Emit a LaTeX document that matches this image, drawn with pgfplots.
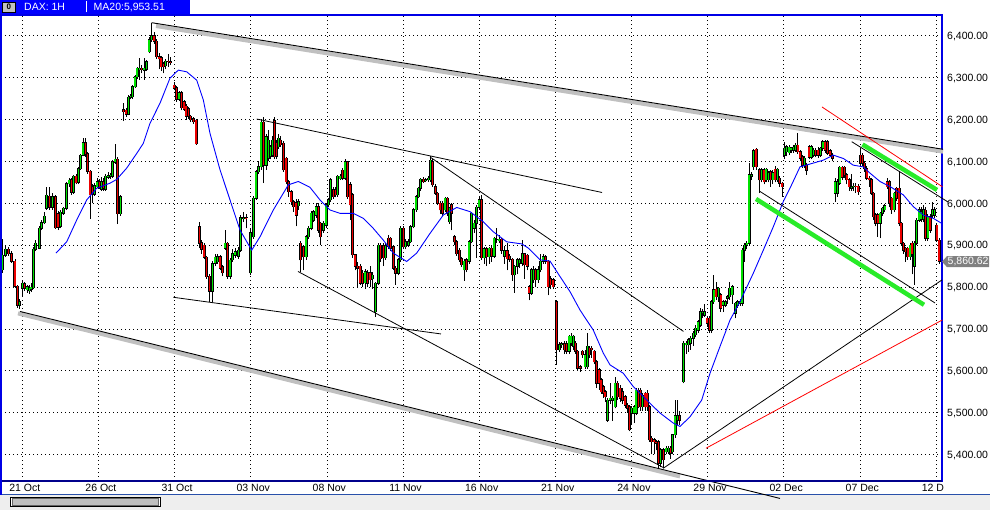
\documentclass[border=0pt]{standalone}
\usepackage{fontspec}
\setmainfont{Liberation Sans}
\usepackage{pgfplots}
\usepackage{pgfplotstable}
\pgfplotsset{compat=1.18}
\definecolor{cgreen}{RGB}{0,225,0}
\definecolor{cred}{RGB}{235,0,0}
\definecolor{lgreen}{RGB}{40,235,40}
\definecolor{frameblue}{RGB}{0,0,230}
\definecolor{hdrblue}{RGB}{0,0,255}
\definecolor{navy}{RGB}{0,0,140}
\definecolor{lgray}{RGB}{192,192,192}
\definecolor{scrollbg}{RGB}{238,238,238}
\definecolor{maBlue}{RGB}{0,0,255}
\definecolor{lineblue}{RGB}{40,80,170}

\pgfplotstableread{
x o h l c
2.7 5841 5914 5833 5876
5.7 5876 5898 5872 5890
8.3 5890 5895 5875 5880
11.7 5880 5885 5858 5862
15 5862 5866 5798 5802
17.3 5802 5806 5750 5757
19.3 5757 5772 5748 5765
22.3 5797 5815 5778 5809
24.7 5808 5812 5790 5797
27 5793 5806 5786 5801
29.3 5791 5804 5784 5797
31 5795 5810 5788 5800
33.3 5798 5895 5795 5890
35.7 5890 5912 5886 5905
39.3 5893 5945 5890 5940
41.7 5940 5960 5936 5953
44.3 5953 5978 5950 5969
46.7 5988 6040 5985 6019
49.3 6017 6040 5985 5990
52.3 5990 6025 5985 6016
55.3 6016 6020 5938 5942
58 5975 5982 5936 5943
60.7 5945 5984 5940 5978
63.3 5976 5990 5972 5988
66.7 5988 6052 5985 6047
69 6047 6060 6040 6055
71.3 6056 6060 6020 6026
73.7 6026 6068 6022 6064
76 6064 6070 6045 6049
78.3 6050 6087 6046 6083
80.7 6083 6118 6080 6115
83 6115 6155 6112 6145
85.3 6145 6157 6110 6118
87.7 6118 6122 6070 6076
90 6076 6080 5962 6020
92.3 6040 6045 6000 6022
94.7 6022 6048 6018 6042
97 6040 6060 6036 6052
99.3 6052 6058 6035 6040
101.3 6034 6063 6030 6052
103.3 6052 6060 6030 6036
105.7 6034 6070 6030 6064
108 6062 6075 6058 6066
110.3 6064 6072 6058 6067
112.7 6064 6104 6060 6099
115 6098 6142 6094 6105
117.7 6105 6110 5950 5975
120.7 5975 6020 5970 6016
123.3 6223 6239 6196 6219
126 6222 6228 6207 6213
128.3 6213 6258 6210 6253
130.7 6253 6262 6248 6256
132.7 6255 6282 6250 6278
135 6278 6306 6275 6302
137 6302 6326 6298 6322
139.3 6319 6346 6295 6322
141.7 6323 6330 6310 6319
144 6318 6346 6295 6322
146.7 6320 6342 6316 6338
149 6362 6396 6358 6390
151.7 6390 6431 6386 6400
154 6400 6408 6380 6387
156.7 6387 6392 6345 6350
159 6350 6360 6320 6345
161 6348 6352 6316 6326
163.3 6332 6338 6310 6326
165.7 6328 6345 6320 6339
168.3 6339 6356 6326 6338
170.7 6338 6350 6330 6337
174 6282 6290 6270 6275
176.7 6276 6280 6242 6248
179 6248 6268 6244 6264
181.7 6264 6268 6222 6228
184 6242 6246 6220 6225
186 6232 6236 6200 6208
188.3 6226 6230 6202 6208
190.7 6208 6212 6194 6199
193.3 6202 6206 6190 6195
196 6198 6202 6140 6142
199.3 5944 5956 5892 5905
201.7 5906 5912 5880 5890
204 5900 5905 5866 5871
206.7 5871 5875 5820 5825
209.3 5826 5830 5765 5790
212.3 5790 5862 5765 5856
215 5857 5878 5850 5871
217.3 5860 5880 5855 5872
220 5872 5876 5840 5845
222.3 5848 5852 5826 5834
225 5892 5936 5888 5904
227.3 5904 5908 5820 5826
230 5826 5870 5818 5864
232.3 5865 5890 5860 5880
235 5876 5892 5870 5884
238.3 5874 5895 5868 5888
240.7 5888 5972 5884 5966
243.3 5963 5980 5955 5966
246 5966 5975 5940 5965
250.7 5834 5940 5828 5930
253.3 5920 6018 5915 6012
256 6012 6080 6008 6075
258.3 6075 6100 6070 6087
261 6087 6200 6080 6193
263.3 6193 6205 6048 6091
266 6091 6165 6080 6159
268.7 6107 6175 6100 6151
270.7 6112 6140 6105 6135
272.7 6115 6160 6110 6151
274.7 6197 6205 6105 6111
276.7 6143 6150 6105 6112
278.7 6135 6165 6130 6155
280.7 6150 6160 6135 6140
283.3 6143 6148 6075 6080
286 6107 6110 6045 6052
288.7 6052 6055 6015 6028
291 6028 6032 5995 6004
293.3 6004 6008 5980 5992
296 6001 6010 5945 5972
298.3 5994 6010 5985 6004
300.7 5904 5910 5836 5865
303.3 5896 5900 5840 5872
306 5872 5925 5865 5920
308.7 5920 5945 5915 5940
311 5940 5982 5935 5976
313.3 5960 5985 5955 5980
316 5972 6000 5965 5992
318.3 5992 6000 5930 5936
320.7 5952 5955 5900 5920
323.3 5936 5958 5930 5952
326 5948 6000 5940 5996
328.3 5996 6012 5990 6008
330.7 6008 6060 6004 6056
333.3 6032 6040 6010 6016
335.3 6032 6038 6014 6020
337.3 6020 6068 6015 6064
340 6059 6070 6055 6065
342.3 6079 6085 6055 6060
345 6060 6105 6055 6099
347.3 6099 6102 6010 6016
350 6044 6050 5960 5996
352.3 6020 6025 5870 5877
355 5877 5880 5840 5849
357.7 5850 5860 5800 5845
360 5849 5855 5805 5809
362.3 5833 5840 5800 5809
365 5810 5842 5795 5837
367.3 5834 5840 5800 5809
370 5834 5850 5800 5817
372.7 5820 5835 5795 5828
375.7 5741 5812 5729 5809
378.3 5809 5904 5805 5900
380.7 5900 5905 5860 5868
383.3 5898 5905 5850 5870
385.7 5870 5905 5865 5898
388.3 5916 5925 5890 5896
390.7 5916 5920 5885 5892
393.3 5896 5900 5840 5845
395.7 5845 5850 5805 5833
398.3 5833 5870 5828 5865
400.7 5865 5945 5860 5940
403.3 5940 5945 5890 5896
405.7 5896 5915 5890 5908
408.3 5900 5915 5895 5908
410.7 5908 5948 5905 5944
413.3 5944 5988 5940 5984
416 5984 6020 5980 6016
418.3 6016 6040 6012 6036
420.7 6036 6060 6030 6057
423.3 6057 6062 6048 6052
425.7 6055 6060 6050 6056
428.3 6056 6065 6052 6060
430.7 6056 6113 6052 6103
432.7 6099 6105 6040 6044
435.3 6040 6045 6020 6024
437.3 6024 6028 5995 6000
440 6000 6005 5975 5984
442.3 6000 6005 5970 5976
445 5984 6016 5980 6012
447.3 6012 6016 5970 5976
449.3 5956 5992 5950 5988
451.7 5996 6000 5935 5976
454.3 5920 5925 5900 5908
456.7 5908 5912 5875 5880
459.3 5888 5892 5860 5865
461.7 5868 5872 5848 5853
464 5841 5868 5815 5861
466.7 5865 5870 5835 5841
469 5861 5912 5855 5908
471.7 5908 5980 5904 5976
474 5940 5960 5930 5952
476.5 5952 5995 5870 5990
479 5990 6018 5985 6009
481.5 6009 6020 5865 5870
484 5870 5895 5855 5891
486.5 5891 5896 5850 5872
489 5872 5896 5855 5892
491.5 5892 5900 5860 5874
494 5874 5920 5870 5916
496.5 5914 5940 5905 5914
499 5910 5925 5905 5914
501.5 5914 5918 5880 5888
504.5 5874 5898 5855 5887
507 5887 5905 5840 5868
509.7 5874 5878 5860 5866
512.3 5866 5870 5815 5829
514.7 5829 5852 5786 5849
517.3 5849 5870 5830 5865
519.7 5857 5870 5845 5865
522.3 5857 5912 5850 5879
524.7 5879 5882 5820 5853
527 5876 5880 5840 5850
529 5801 5805 5768 5785
531.3 5785 5845 5781 5841
533.7 5817 5850 5810 5841
535.7 5841 5845 5800 5817
538 5817 5850 5810 5841
540.3 5841 5880 5835 5861
543 5861 5878 5855 5872
545.7 5872 5876 5855 5861
548 5861 5865 5780 5801
550.3 5820 5826 5795 5805
553 5817 5822 5795 5801
556.7 5765 5770 5614 5650
559.3 5650 5668 5645 5662
561.7 5662 5668 5655 5664
564.3 5664 5670 5640 5650
566.7 5665 5670 5640 5646
569 5646 5686 5640 5682
571 5666 5690 5660 5682
573.3 5658 5686 5650 5682
575.7 5666 5672 5640 5646
577.3 5646 5650 5600 5606
580 5610 5614 5598 5606
582.3 5646 5650 5630 5638
585 5610 5650 5605 5638
587.3 5610 5690 5605 5658
589.3 5654 5660 5630 5638
591.7 5654 5660 5630 5650
594 5646 5650 5615 5622
596.7 5622 5626 5560 5570
599 5602 5606 5555 5570
601 5578 5582 5545 5550
603.3 5562 5566 5535 5546
605 5550 5555 5525 5538
607.3 5482 5534 5478 5530
610 5530 5570 5520 5534
612.3 5530 5540 5480 5534
615 5514 5584 5510 5570
617.7 5570 5576 5530 5538
620 5558 5565 5525 5534
622.3 5550 5560 5520 5530
625 5538 5542 5510 5518
627.3 5518 5522 5500 5510
629.3 5514 5518 5455 5459
631.7 5498 5515 5470 5510
634 5498 5518 5475 5514
636 5498 5560 5494 5554
638.3 5554 5558 5510 5514
640.7 5554 5560 5505 5514
642.7 5514 5548 5505 5542
645 5546 5550 5505 5514
647 5546 5555 5505 5514
649.3 5514 5518 5430 5435
651.7 5439 5444 5400 5431
654 5435 5440 5400 5431
656 5431 5435 5410 5427
658.3 5431 5435 5367 5379
660.7 5379 5415 5370 5411
663.3 5411 5415 5367 5387
666 5407 5420 5400 5415
668.3 5407 5420 5400 5415
670.5 5415 5420 5390 5403
672.7 5407 5450 5400 5447
675 5447 5530 5440 5492
677.3 5482 5530 5470 5492
679.5 5492 5505 5470 5482
683.3 5574 5670 5570 5666
686 5662 5672 5640 5666
688.3 5662 5678 5645 5674
690.7 5666 5684 5650 5678
693.3 5678 5695 5660 5690
695.7 5686 5710 5680 5702
698 5697 5722 5690 5717
700.3 5709 5750 5705 5741
702.5 5737 5748 5725 5741
704.7 5733 5760 5728 5741
707 5725 5730 5705 5713
709.3 5725 5730 5690 5697
711.5 5697 5770 5690 5765
713.8 5765 5829 5760 5793
716 5795 5812 5770 5777
718.5 5777 5800 5765 5797
720.8 5781 5785 5740 5749
723 5757 5770 5740 5765
725.3 5757 5770 5752 5765
727.5 5773 5782 5760 5777
729.7 5777 5812 5770 5797
732 5781 5806 5760 5801
735.3 5737 5765 5725 5761
737.5 5757 5770 5750 5765
740 5761 5772 5755 5765
742.2 5761 5892 5755 5888
744.5 5888 5905 5860 5900
746.8 5900 5910 5890 5904
749 5904 6096 5900 6068
751.3 6064 6075 6055 6068
753.5 6087 6129 6080 6125
756 6129 6132 6080 6087
759.3 6080 6085 6024 6056
761.7 6056 6084 6050 6080
764 6080 6085 6045 6052
766.2 6056 6085 6050 6081
768.5 6056 6078 6050 6073
770.7 6075 6080 6040 6056
772.9 6056 6080 6045 6073
775.1 6081 6090 6050 6056
777.4 6056 6085 6050 6081
779.7 6060 6065 6040 6048
782 6048 6052 6016 6040
784.3 6115 6147 6105 6131
786.7 6123 6140 6112 6135
789 6121 6140 6115 6134
791.2 6127 6135 6120 6131
793.4 6127 6140 6120 6134
795.6 6127 6144 6122 6139
797.8 6139 6167 6118 6123
800 6123 6128 6100 6107
802.3 6111 6115 6085 6091
804.5 6091 6112 6085 6107
806.7 6091 6095 6068 6079
809 6135 6140 6105 6110
811.2 6110 6140 6105 6135
813.4 6115 6132 6110 6127
815.7 6127 6132 6110 6115
818.1 6127 6134 6108 6115
820.5 6115 6135 6110 6131
822.8 6131 6150 6125 6147
825.1 6147 6152 6120 6127
827.4 6147 6152 6115 6119
830 6126 6130 6110 6115
832.3 6115 6120 6100 6107
835 6024 6060 6004 6052
837.3 6024 6058 6015 6052
839.8 6048 6090 6044 6086
842.2 6086 6090 6055 6062
844.6 6086 6090 6060 6068
846.9 6068 6072 6045 6056
849.2 6056 6060 6030 6040
851.4 6036 6070 6030 6040
853.6 6040 6048 6030 6041
855.8 6041 6048 6025 6040
858 6041 6046 6020 6028
860.3 6115 6131 6090 6096
862.5 6115 6120 6090 6096
864.7 6096 6100 6075 6083
866.9 6083 6088 6055 6060
869.1 6060 6065 6040 6056
871.3 6056 6060 6020 6024
873.5 6024 6028 5960 5968
875.7 5972 5976 5945 5952
877.9 5972 5976 5920 5952
880.1 5952 5980 5916 5976
882.4 5976 5990 5970 5988
884.8 5984 5998 5978 5994
887.2 6052 6060 6035 6040
889.5 6052 6055 5990 6000
891.8 6012 6016 5975 5984
894.1 5984 6028 5978 6024
896.6 6036 6040 6005 6012
899 6036 6076 5945 5952
901.2 5952 5956 5900 5904
903.4 5904 5908 5880 5888
905.6 5892 5896 5860 5884
907.8 5892 5896 5865 5872
910 5872 5905 5865 5900
912.2 5904 5910 5830 5880
914.4 5850 5910 5805 5904
916.7 5904 5965 5900 5960
919 5960 5990 5955 5984
921.2 5962 5992 5955 5980
923.4 5962 5996 5955 5984
925.7 5983 5990 5910 5916
927.9 5916 5975 5910 5968
930.1 5968 5975 5930 5936
932.3 5972 6003 5965 5984
934.5 5972 5990 5966 5984
936.8 5948 5952 5908 5912
939 5912 5916 5855 5861
}\candles

\pgfplotstableread{
x y
56 5881
66.7 5908
76.7 5960
86.7 6008
96.7 6036
110 6048
116.7 6057
126.7 6084
136.7 6119
143.3 6143
150 6191
160 6239
170 6299
178.3 6318
186.7 6314
196.7 6294
203.3 6247
210 6167
220 6080
230 6008
240 5936
251.7 5888
260 5920
273.3 5984
288.3 6044
298.3 6052
310 6038
320 6008
330 5984
340 5976
353.3 5976
363.3 5964
373.3 5940
383.3 5912
393.3 5881
406.7 5861
416.7 5881
430 5928
443.3 5972
456.7 5990
470 5980
483.3 5956
493.3 5932
506.7 5908
521.7 5903
528.3 5893
540 5865
550 5862
560 5825
570 5789
580 5745
593.3 5697
603.3 5642
610 5614
623.3 5594
633.3 5562
646.7 5530
660 5499
673.3 5475
680 5467
690 5490
701.7 5530
710 5594
720 5658
730 5721
740 5765
753.3 5833
763.3 5888
773.3 5944
783.3 6004
790 6036
800 6087
813.3 6096
823.3 6103
833.3 6115
843.3 6107
853.3 6091
863.3 6087
870 6072
880 6052
890 6040
903.3 6020
913.3 5992
923.3 5972
933.3 5964
941.7 5952
}\ma

\begin{document}
\begin{tikzpicture}[x=1pt,y=1pt]
\path[use as bounding box] (0,0) rectangle (990,510);
\fill[white] (0,0) rectangle (990,510);
% scroll area
\fill[scrollbg] (0,0) rectangle (990,14.5);
\draw[lineblue, line width=1pt] (0,15) -- (990,15);
\draw[black, line width=1pt, fill=white] (10.5,3) rectangle (160.2,12.5);
\draw[black!60, line width=0.8pt, fill=lgray] (12,4.4) rectangle (158.7,11.1);
% header
\fill[hdrblue] (0,496) rectangle (190,510);
\draw[black, fill=lgray, line width=0.8pt] (2.5,498) rectangle (15,508);
\node[font=\fontsize{8}{8}\selectfont\bfseries, inner sep=0pt] at (8.75,503) {0};
\draw[white, line width=1pt] (86,497.5) -- (86,509);
\node[font=\fontsize{10.5}{12}\selectfont, text=white, anchor=base west, inner sep=0pt] at (24,499) {DAX: 1H};
\node[font=\fontsize{10.5}{12}\selectfont, text=white, anchor=base west, inner sep=0pt] at (93.5,499) {MA20:5,953.51};

\begin{axis}[
  at={(1pt,29pt)}, anchor=south west,
  scale only axis, width=941pt, height=466pt,
  xmin=1, xmax=942, ymin=5336.7, ymax=6449.7,
  clip=false,
  axis line style={frameblue, line width=1.2pt},
  major tick length=0pt,
  tick style={draw=none},
  grid=major,
  major grid style={black, line width=0.7pt, dash pattern=on 0.7pt off 3.3pt},
  xtick={22.3,98.44,174.58,250.72,326.86,403.0,479.14,555.28,631.42,707.56,783.7,859.84,935.98},
  xticklabels={21 Oct,26 Oct,31 Oct,03 Nov,08 Nov,11 Nov,16 Nov,21 Nov,24 Nov,29 Nov,02 Dec,07 Dec,12 Dec},
  ytick={5400,5500,5600,5700,5800,5900,6000,6100,6200,6300,6400},
  yticklabel pos=right,
  /pgf/number format/assume math mode=true,
  yticklabel={\pgfmathprintnumber[fixed,fixed zerofill,precision=2,1000 sep={,}]{\tick}},
  ticklabel style={font=\fontsize{10.5}{12}\selectfont, inner sep=0pt},
  xticklabel style={anchor=base, yshift=-11pt, xshift=2.5pt},
  yticklabel style={anchor=base west, xshift=5pt, yshift=-3.8pt},
]
% trend lines (gray channels under)
\addplot[lgray, line width=4pt] coordinates {(156,6423.4) (943,6123.2)};
\addplot[lgray, line width=4pt] coordinates {(18,5736.9) (680,5347.6)};

% wicks
\addplot[draw=none, forget plot, error bars/.cd, y dir=plus, y explicit, error mark=none,
  error bar style={draw=black, line width=0.9pt}]
  table[x=x, y=l, y error plus expr=\thisrow{h}-\thisrow{l}] {\candles};
% body outline
\addplot[draw=none, forget plot, error bars/.cd, y dir=plus, y explicit, error mark=none,
  error bar style={draw=black, line width=3pt}]
  table[x=x, y expr={min(\thisrow{o},\thisrow{c})-1.2}, y error plus expr={abs(\thisrow{c}-\thisrow{o})+2.4}] {\candles};
% up bodies
\addplot[draw=none, forget plot, error bars/.cd, y dir=plus, y explicit, error mark=none,
  error bar style={draw=cgreen, line width=1.5pt}]
  table[x=x, y=o, y error plus expr={max(\thisrow{c}-\thisrow{o},0)}] {\candles};
% down bodies
\addplot[draw=none, forget plot, error bars/.cd, y dir=plus, y explicit, error mark=none,
  error bar style={draw=cred, line width=1.5pt}]
  table[x=x, y=c, y error plus expr={max(\thisrow{o}-\thisrow{c},0)}] {\candles};

% moving average
\addplot[maBlue, line width=0.9pt] table[x=x, y=y] {\ma};

% black trend lines
\addplot[black, line width=0.9pt] coordinates {(151.7,6431.3) (943,6129)};
\addplot[black, line width=0.9pt] coordinates {(20,5741.6) (780,5295.1)};
\addplot[black, line width=0.8pt] coordinates {(298,5837.1) (664,5367.9)};
\addplot[black, line width=0.8pt] coordinates {(256.7,6201.3) (602,6025.8)};
\addplot[black, line width=0.8pt] coordinates {(430,6110.6) (683.5,5693.9)};
\addplot[black, line width=0.8pt] coordinates {(173.3,5775.5) (441,5687.9)};
\addplot[black, line width=0.8pt] coordinates {(663.3,5367.2) (942,5816.9)};
\addplot[black, line width=0.8pt] coordinates {(851.7,6147.1) (948,6003.1)};
\addplot[black, line width=0.8pt] coordinates {(760,6028.2) (935,5761.9)};
% red lines
\addplot[red, line width=0.8pt] coordinates {(706,5414.9) (942.3,5721.3)};
\addplot[red, line width=0.8pt] coordinates {(822,6230) (942.3,6039.6)};
% green channel
\addplot[lgreen, line width=4.5pt] coordinates {(862.5,6140.4) (937,6031.8)};
\addplot[lgreen, line width=4.5pt] coordinates {(756,6010.3) (924,5757.5)};

% last price marker
\fill[gray] (axis cs:942,5860.62) -- ++(5pt,5.5pt) -- ++(42pt,0pt) -- ++(0pt,-11pt) -- ++(-42pt,0pt) -- cycle;
\node[font=\fontsize{10.5}{12}\selectfont, text=white, anchor=west, inner sep=0pt] at (axis cs:942,5860.62) [xshift=5.5pt] {5,860.62};
\end{axis}
% clip last date label
\fill[white] (943.5,16) rectangle (990,27.5);
\draw[navy, line width=1.2pt] (1,29) -- (942,29);
\draw[frameblue, line width=1.2pt] (1,15) -- (1,495);
\end{tikzpicture}
\end{document}
